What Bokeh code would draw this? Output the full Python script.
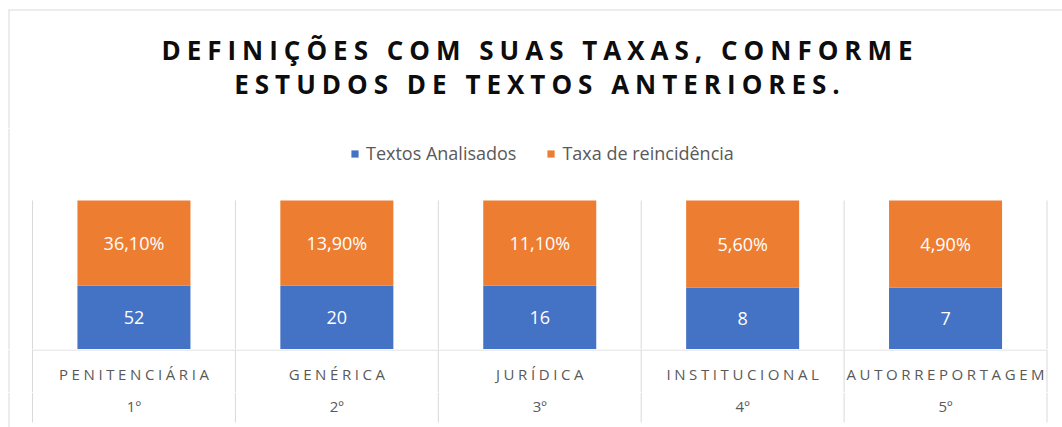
from bokeh.plotting import figure
from bokeh.models import Range1d, Legend, LegendItem, ColumnDataSource, InlineStyleSheet
from bokeh.layouts import column
from bokeh.embed import file_html
from bokeh.resources import INLINE
from bokeh.core.properties import value

# ---------------- data ----------------
categorias = ["PENITENCIÁRIA", "GENÉRICA", "JURÍDICA", "INSTITUCIONAL", "AUTORREPORTAGEM"]
posicoes = ["1º", "2º", "3º", "4º", "5º"]
textos_analisados = [52, 20, 16, 8, 7]
taxa_reincidencia = [36.10, 13.90, 11.10, 5.60, 4.90]
# share (%) of each 100%-stacked column occupied by the blue segment
fatia_textos = [42.8, 42.8, 42.8, 41.6, 41.6]
titulo = ["DEFINIÇÕES COM SUAS TAXAS, CONFORME", "ESTUDOS DE TEXTOS ANTERIORES."]
serie_nomes = ["Textos Analisados", "Taxa de reincidência"]

# ---------------- style ----------------
AZUL = "#4472C4"
LARANJA = "#ED7D31"
CINZA_TXT = "#595959"
CINZA_LIN = "#D9D9D9"
FONT = "Open Sans"

W = 1062
H_T, H_M, H_L1, H_L2 = 128, 221, 43, 35
PX_CAT = 202.9          # px per category
X0 = 32                 # px from figure left to first category boundary
x_start = -0.5 - X0 / PX_CAT
x_end = x_start + W / PX_CAT
x_frame = x_start + 8.5 / PX_CAT   # left edge of the chart frame
PX_Y = 1.49             # px per percent
LS_T = 6.0              # letter spacing of the title
LS_L = 3.6              # letter spacing of the category labels

n = len(categorias)
idx = list(range(n))
bounds = [i - 0.5 for i in range(n + 1)]


def base_fig(h, xr, yr, ls=None):
    kw = {}
    if ls is not None:
        kw["stylesheets"] = [InlineStyleSheet(css=":host { letter-spacing: %spx; }" % ls)]
    p = figure(width=W, height=h, x_range=xr, y_range=yr,
               toolbar_location=None, output_backend="svg", min_border=0,
               x_axis_location=None, y_axis_location=None, **kw)
    p.grid.visible = False
    p.outline_line_color = None
    p.background_fill_color = "white"
    p.border_fill_color = "white"
    return p


# ---------------- title figure ----------------
pT = base_fig(H_T, Range1d(0, W), Range1d(0, H_T), ls=LS_T)
pT.segment(x0=[8.5, 8], y0=[0, H_T - 9.5], x1=[8.5, W], y1=[H_T - 9.5, H_T - 9.5],
           line_color=CINZA_LIN, line_width=1)
tsrc = ColumnDataSource(dict(
    x=[536.5, 536.5], y=[H_T - 49.2, H_T - 83.8], t=titulo,
    off=[-(len(s) - 1) * LS_T / 2 for s in titulo]))
pT.text(x="x", y="y", text="t", x_offset="off", source=tsrc,
        text_font=value(FONT), text_font_style="bold", text_font_size="26px",
        text_color="#0d0d0d", text_align="center", text_baseline="middle")

# ---------------- main figure ----------------
pM = base_fig(H_M, Range1d(x_start, x_end), Range1d(0, H_M / PX_Y))
pM.segment(x0=[x_frame], y0=[0], x1=[x_frame], y1=[H_M / PX_Y],
           line_color=CINZA_LIN, line_width=1)
pM.segment(x0=bounds, y0=[0] * len(bounds), x1=bounds, y1=[100] * len(bounds),
           line_color=CINZA_LIN, line_width=1)

src = ColumnDataSource(dict(
    x=idx, fatia=fatia_textos, topo=[100] * n,
    lab_a=[str(v) for v in textos_analisados],
    lab_b=[("%.2f" % v).replace(".", ",") + "%" for v in taxa_reincidencia],
    y_a=[f / 2 for f in fatia_textos],
    y_b=[(f + 100) / 2 for f in fatia_textos],
))
r_a = pM.vbar(x="x", bottom=0, top="fatia", width=0.557, source=src,
              fill_color=AZUL, line_color=None)
r_b = pM.vbar(x="x", bottom="fatia", top="topo", width=0.557, source=src,
              fill_color=LARANJA, line_color=None)
pM.text(x="x", y="y_a", text="lab_a", source=src, text_font=value(FONT),
        text_font_size="18px", text_color="white", text_align="center",
        text_baseline="middle")
pM.text(x="x", y="y_b", text="lab_b", source=src, text_font=value(FONT),
        text_font_size="18px", text_color="white", text_align="center",
        text_baseline="middle")

leg = Legend(items=[LegendItem(label=serie_nomes[0], renderers=[r_a]),
                    LegendItem(label=serie_nomes[1], renderers=[r_b])],
             orientation="horizontal", location=(350, 184),
             glyph_width=9, glyph_height=9, label_standoff=7, spacing=30,
             padding=0, margin=0, border_line_alpha=0, background_fill_alpha=0,
             label_text_font=FONT, label_text_font_size="18px",
             label_text_color=CINZA_TXT)
pM.add_layout(leg, "center")

# ---------------- category label figure ----------------
pL1 = base_fig(H_L1, Range1d(x_start, x_end), Range1d(0, H_L1), ls=LS_L)
pL1.segment(x0=[x_frame], y0=[0], x1=[x_frame], y1=[H_L1],
            line_color=CINZA_LIN, line_width=1)
pL1.segment(x0=bounds, y0=[0] * len(bounds), x1=bounds, y1=[H_L1] * len(bounds),
            line_color=CINZA_LIN, line_width=1)
pL1.segment(x0=[bounds[0]], y0=[H_L1 - 0.5], x1=[bounds[-1]], y1=[H_L1 - 0.5],
            line_color=CINZA_LIN, line_width=1)
lsrc = ColumnDataSource(dict(
    x=idx, cat=categorias, pos=posicoes,
    off_c=[-(len(s) - 1) * LS_L / 2 for s in categorias],
))
pL1.text(x="x", y=H_L1 - 24.7, text="cat", x_offset="off_c", source=lsrc,
         text_font=value(FONT), text_font_size="15px", text_color=CINZA_TXT,
         text_align="center", text_baseline="middle")

# ---------------- rank label figure ----------------
pL2 = base_fig(H_L2, Range1d(x_start, x_end), Range1d(0, H_L2))
pL2.segment(x0=[x_frame], y0=[0], x1=[x_frame], y1=[H_L2],
            line_color=CINZA_LIN, line_width=1)
pL2.segment(x0=bounds, y0=[5] * len(bounds), x1=bounds, y1=[H_L2] * len(bounds),
            line_color=CINZA_LIN, line_width=1)
pL2.text(x="x", y=H_L2 - 13, text="pos", source=lsrc,
         text_font=value(FONT), text_font_size="15px", text_color=CINZA_TXT,
         text_align="center", text_baseline="middle")

layout = column(pT, pM, pL1, pL2, spacing=0)
open("out.html", "w").write(file_html(layout, INLINE))
